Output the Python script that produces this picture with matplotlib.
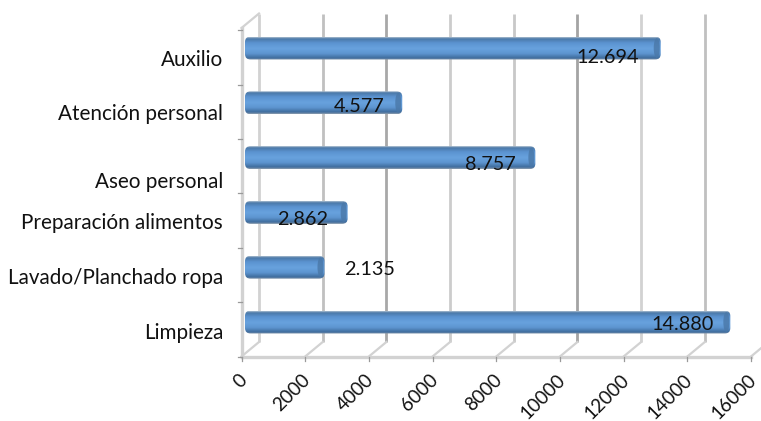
import numpy as np
import matplotlib
matplotlib.use("Agg")
import matplotlib.pyplot as plt
from matplotlib.colors import LinearSegmentedColormap
from matplotlib.patches import FancyBboxPatch, Ellipse
from matplotlib.transforms import Affine2D

categories = ["Limpieza", "Lavado/Planchado ropa", "Preparación alimentos",
              "Aseo personal", "Atención personal", "Auxilio"]
values = [14880, 2135, 2862, 8757, 4577, 12694]
value_labels = ["14.880", "2.135", "2.862", "8.757", "4.577", "12.694"]
x_ticks = [0, 2000, 4000, 6000, 8000, 10000, 12000, 14000, 16000]

# layout (pixels)
W, H = 761, 421
X0, X16 = 241.5, 751.0
PX = (X16 - X0) / 16000
Y_BAR0, STEP = 322.0, 54.8
DEPTH_X, DEPTH_Y = 17.5, 14.5
FLOOR_Y, TOP_Y = 356.5, 28.0
label_dx = [-17, 70, -19, -20, -18, -22]
label_dy = [3, 2, 7, 7, 4, 9]
cat_label_y = [333, 278, 223, 182, 114, 60]
grid_cols = ["#d2d2d2", "#c0c0c0", "#a8a8a8", "#cccccc", "#c8c8c8",
             "#a4a4a4", "#d2d2d2", "#c0c0c0", "#cccccc"]
FS = 14.9

plt.rcParams["font.family"] = ["Lato", "DejaVu Sans"]
fig = plt.figure(figsize=(W / 100, H / 100), dpi=100)
ax = fig.add_axes([0, 0, 1, 1])
ax.axis("off")


def yd(py):
    return (Y_BAR0 - py) / STEP


back = ax.transData + Affine2D().translate(DEPTH_X, DEPTH_Y)

# back-wall gridlines, floor obliques and front ticks
for t, c in zip(x_ticks, grid_cols):
    if t < 16000:
        ax.plot([t, t], [yd(FLOOR_Y), yd(TOP_Y)], transform=back, color=c, lw=2.0,
                solid_capstyle="butt", zorder=1)
    ax.plot([t, t + DEPTH_X / PX], [yd(FLOOR_Y), yd(FLOOR_Y - DEPTH_Y)], color="#d2d2d2",
            lw=1.6, zorder=1)
    ax.plot([t, t], [yd(FLOOR_Y), yd(FLOOR_Y + 4)], color="#9a9a9a", lw=0.9, zorder=2)

# floor and left wall
ax.plot([0, 16000], [yd(FLOOR_Y), yd(FLOOR_Y)], color="#d2d2d2", lw=2.4, zorder=1)
ax.plot([0, 0], [yd(FLOOR_Y), yd(TOP_Y)], color="#d2d2d2", lw=2.4, zorder=1)
ax.plot([0, DEPTH_X / PX], [yd(TOP_Y), yd(TOP_Y - DEPTH_Y)], color="#d2d2d2", lw=1.6, zorder=1)
for i in range(7):
    py = FLOOR_Y - i * 54.4
    ax.plot([-4 / PX, 0], [yd(py), yd(py)], color="#9a9a9a", lw=0.9, zorder=2)

# bars with cylinder shading
cmap = LinearSegmentedColormap.from_list(
    "cyl", [(0, "#a9bccf"), (0.07, "#4a78a8"), (0.25, "#5b93d0"), (0.5, "#68a2de"),
            (0.72, "#5d95d0"), (0.92, "#3f6c9d"), (1, "#8b9cae")])
grad = np.linspace(0, 1, 64).reshape(-1, 1)
BAR_H = 23 / STEP
START = 3.5 / PX
R = 5.5 / PX
for i, v in enumerate(values):
    x0, x1 = START, v + 15 / PX
    y0 = i - BAR_H / 2
    patch = FancyBboxPatch((x0, y0), x1 - x0, BAR_H,
                           boxstyle=f"round,pad=0,rounding_size={R}",
                           mutation_aspect=(PX / STEP), fc="none", ec="none", zorder=3)
    ax.add_patch(patch)
    im = ax.imshow(grad, cmap=cmap, extent=[x0, x1, y0, y0 + BAR_H],
                   aspect="auto", zorder=3, interpolation="bilinear")
    im.set_clip_path(patch)
    ax.add_patch(Ellipse((x1 - 4 / PX, i), 6 / PX, 20 / STEP, fc="#4a78a8", ec="none",
                         alpha=0.8, zorder=4))
    ax.annotate(value_labels[i], xy=(x1, i), xytext=(label_dx[i] * 0.72, -label_dy[i] * 0.72),
                textcoords="offset points", ha="right", va="center",
                fontsize=14.3, color="#111111", zorder=5)

ax.set_xlim(-X0 / PX, (W - X0) / PX)
ax.set_ylim((Y_BAR0 - H) / STEP, Y_BAR0 / STEP)

# category labels
for name, py in zip(categories, cat_label_y):
    ax.text(-18.5 / PX, yd(py), name, ha="right", va="center", fontsize=FS, color="#111111")

# value axis labels
for t in x_ticks:
    ax.annotate(str(t), xy=(t, yd(FLOOR_Y)), xytext=(-2.5, -10.5), textcoords="offset points",
                rotation=45, rotation_mode="anchor", ha="right", va="top",
                fontsize=13.6, color="#111111")

fig.savefig("out.png", dpi=100)
